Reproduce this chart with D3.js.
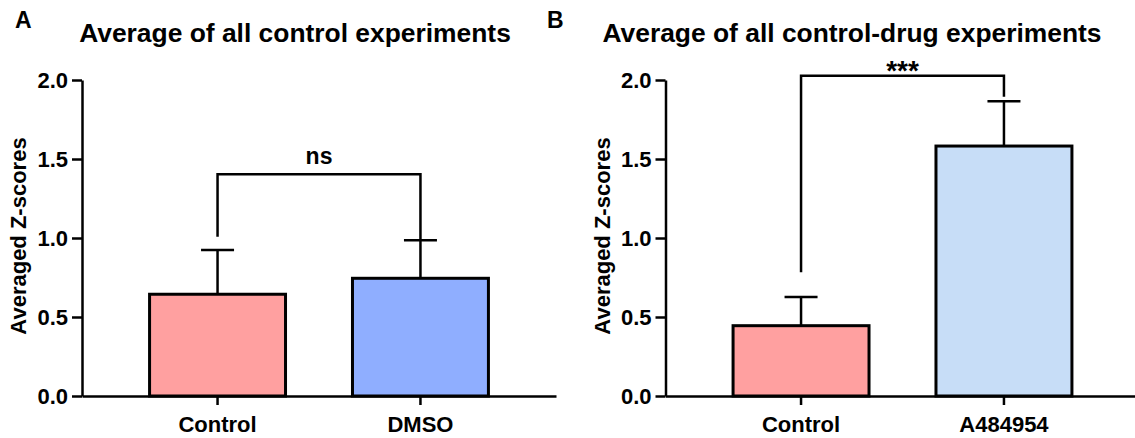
<!DOCTYPE html>
<html>
<head>
<meta charset="utf-8">
<script src="https://cdn.jsdelivr.net/npm/d3@7"></script>
<style>
  body { margin: 0; background: #fff; }
  svg { font-family: "Liberation Sans", Arial, sans-serif; font-weight: bold; }
</style>
</head>
<body>
<div id="chart"></div>
<script>
// panel A
var catsA = ["Control", "DMSO"];
var meanA = [0.644, 0.745];
var errA = [0.924, 0.985];   // top of SD bar
var sigA = { label: "ns", y: 1.403, left: 1.008, right: 0.99 };

// panel B
var catsB = ["Control", "A484954"];
var meanB = [0.445, 1.582];
var errB = [0.627, 1.865];
var sigB = { label: "***", y: 2.027, left: 0.783, right: 1.894 };

var yTicks = [0.0, 0.5, 1.0, 1.5, 2.0];

var width = 1135, height = 438;

var svg = d3.select('#chart').append('svg')
  .attr('width', width)
  .attr('height', height);

var y = d3.scaleLinear().domain([0, 2]).range([396, 80]);

var drawPanel = function(ox, letter, letterX, title, titleX, cats, mean, err, sig, colors) {
  var g = svg.append('g').attr('transform', 'translate(' + ox + ',0)');
  var x = d3.scaleBand().domain(cats).range([82, 556])
    .paddingInner(0.33).paddingOuter(0.333);

  svg.append('text').attr('x', letterX).attr('y', 28)
    .style('font-size', '23px').text(letter);
  svg.append('text').attr('x', titleX).attr('y', 42)
    .attr('text-anchor', 'middle').style('font-size', '26.4px').text(title);

  // y axis
  var ya = g.append('g').attr('transform', 'translate(82,0)')
    .call(d3.axisLeft(y).tickValues(yTicks).tickFormat(d3.format('.1f'))
      .tickSize(10).tickPadding(4).tickSizeOuter(0));
  ya.select('.domain').attr('stroke-width', 2.5);
  ya.selectAll('.tick line').attr('stroke-width', 2.5);
  ya.selectAll('.tick text').style('font-size', '22px')
    .attr('font-family', null).attr('font-weight', 'bold').attr('fill', '#000');

  g.append('text')
    .attr('transform', 'translate(26,' + 236 + ') rotate(-90)')
    .attr('text-anchor', 'middle').style('font-size', '22px')
    .text('Averaged Z-scores');

  // bars
  g.selectAll('rect.bar').data(cats).enter().append('rect')
    .attr('class', 'bar')
    .attr('x', function(d) { return x(d); })
    .attr('y', function(d, i) { return y(mean[i]); })
    .attr('width', x.bandwidth())
    .attr('height', function(d, i) { return y(0) - y(mean[i]); })
    .attr('fill', function(d, i) { return colors[i]; })
    .attr('stroke', '#000').attr('stroke-width', 3);

  // error bars
  var cx = function(d) { return x(d) + x.bandwidth() / 2; };
  g.selectAll('line.err').data(cats).enter().append('line')
    .attr('x1', cx).attr('x2', cx)
    .attr('y1', function(d, i) { return y(mean[i]); })
    .attr('y2', function(d, i) { return y(err[i]); })
    .attr('stroke', '#000').attr('stroke-width', 2.5);
  g.selectAll('line.cap').data(cats).enter().append('line')
    .attr('x1', function(d) { return cx(d) - 16.5; })
    .attr('x2', function(d) { return cx(d) + 16.5; })
    .attr('y1', function(d, i) { return y(err[i]); })
    .attr('y2', function(d, i) { return y(err[i]); })
    .attr('stroke', '#000').attr('stroke-width', 2.5);

  // x axis
  var xa = g.append('g').attr('transform', 'translate(0,396)')
    .call(d3.axisBottom(x).tickSize(9).tickPadding(11).tickSizeOuter(0));
  xa.select('.domain').attr('stroke-width', 2.5);
  xa.selectAll('.tick line').attr('stroke-width', 2.5);
  xa.selectAll('.tick text').style('font-size', '22px')
    .attr('font-family', null).attr('font-weight', 'bold').attr('fill', '#000');

  // significance bracket
  var x0 = cx(cats[0]), x1 = cx(cats[1]);
  g.append('path')
    .attr('d', d3.line()([[x0, y(sig.left)], [x0, y(sig.y)], [x1, y(sig.y)], [x1, y(sig.right)]]))
    .attr('fill', 'none').attr('stroke', '#000').attr('stroke-width', 2.5);
  var stars = sig.label != "ns";
  g.append('text').attr('x', (x0 + x1) / 2).attr('y', y(sig.y) + (stars ? 4 : -10))
    .attr('text-anchor', 'middle').style('font-size', stars ? '28px' : '23px').text(sig.label);
};

drawPanel(0, 'A', 15, 'Average of all control experiments', 295,
  catsA, meanA, errA, sigA, ['#FFA0A0', '#8FAEFF']);
drawPanel(583.5, 'B', 547, 'Average of all control-drug experiments', 852,
  catsB, meanB, errB, sigB, ['#FFA0A0', '#C7DDF7']);
</script>
</body>
</html>
